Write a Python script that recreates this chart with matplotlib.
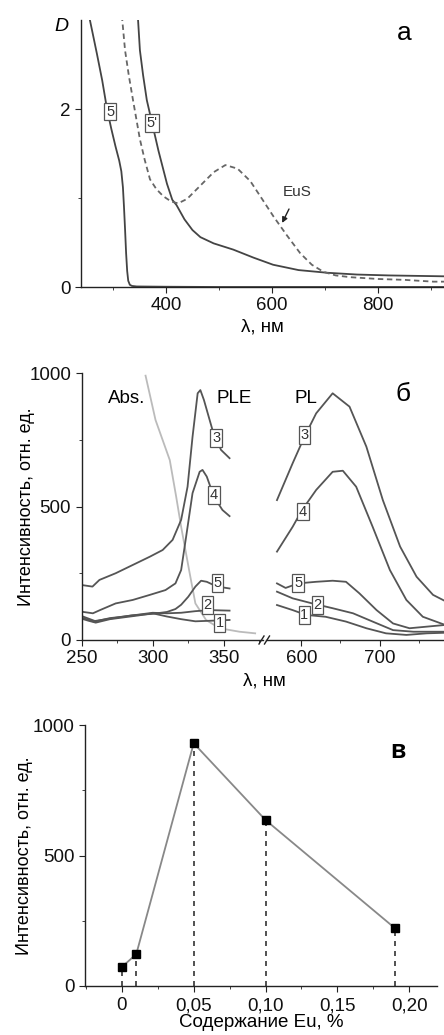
import matplotlib
matplotlib.use('Agg')
import matplotlib.pyplot as plt
from matplotlib.ticker import FixedLocator

plt.rcParams['font.family'] = ['Liberation Sans', 'DejaVu Sans']
plt.rcParams['axes.linewidth'] = 1.0
plt.rcParams['xtick.major.size'] = 4
plt.rcParams['ytick.major.size'] = 4
plt.rcParams['xtick.minor.size'] = 2.5
plt.rcParams['ytick.minor.size'] = 2.5
plt.rcParams['xtick.labelsize'] = 13.5
plt.rcParams['ytick.labelsize'] = 13.5

# --- panel a: absorption spectra, D vs wavelength ---
lam5 = [255, 262, 270, 280, 289, 297, 305, 312, 316, 319, 321, 323, 325, 327, 329, 332, 336, 345, 400, 500, 925]
d5 = [3.05, 2.85, 2.62, 2.32, 2.0, 1.78, 1.58, 1.42, 1.3, 1.12, 0.9, 0.65, 0.38, 0.18, 0.07, 0.025, 0.012, 0.006, 0.003, 0.0, 0.0]

lam5p = [347, 351, 357, 364, 374, 386, 402, 412, 420, 435, 450, 465, 490, 527, 565, 602, 650, 704, 760, 820, 925]
d5p = [3.05, 2.66, 2.38, 2.1, 1.84, 1.53, 1.16, 0.98, 0.92, 0.76, 0.64, 0.56, 0.49, 0.42, 0.33, 0.25, 0.19, 0.16, 0.14, 0.13, 0.12]

lam_eus = [317, 323, 330, 338, 351, 360, 370, 382, 395, 410, 423, 440, 465, 490, 512, 535, 559, 580, 603, 628, 653, 675, 697, 720, 748, 800, 850, 904, 925]
d_eus = [3.05, 2.66, 2.38, 2.1, 1.66, 1.43, 1.21, 1.1, 1.02, 0.96, 0.94, 0.99, 1.14, 1.29, 1.37, 1.33, 1.19, 1.0, 0.79, 0.58, 0.38, 0.25, 0.17, 0.13, 0.11, 0.09, 0.08, 0.06, 0.06]

# --- panel b: PLE (left) and PL (right) spectra ---
abs_lam = [295, 302, 312, 316.5, 320, 326, 330, 337.5, 347, 361, 372]
abs_i = [990, 824, 674, 537, 424, 250, 137, 75, 44, 31, 25]

ple_lam = {
    '3': [250, 257.7, 262.6, 274, 286, 298, 307, 314, 320, 324.5, 328, 331.6, 333.5, 336, 342, 348, 354],
    '4': [250, 258, 263, 274, 286, 298, 309, 316, 320, 323.5, 328, 333, 335, 338, 343, 349, 354],
    '5': [250, 258, 270, 285, 300, 310, 316, 320, 325, 330, 334, 338, 342, 348, 354],
    '2': [250, 255, 260, 270, 280, 290, 300, 310, 320, 330, 340, 354],
    '1': [250, 255, 260, 270, 280, 290, 300, 310, 320, 330, 340, 354],
}
ple_i = {
    '3': [206, 200, 225, 250, 281, 312, 337, 375, 450, 574, 761, 924, 936, 899, 787, 712, 681],
    '4': [106, 100, 112, 137, 150, 169, 187, 212, 262, 387, 550, 630, 637, 612, 537, 487, 464],
    '5': [84, 70, 80, 92, 98, 105, 116, 132, 162, 200, 222, 218, 208, 198, 193],
    '2': [90, 80, 70, 82, 88, 95, 102, 100, 102, 108, 112, 110],
    '1': [80, 72, 65, 78, 85, 92, 100, 88, 78, 70, 72, 75],
}

pl_lam = {
    '3': [569, 589, 604, 619, 640, 661.5, 683, 704, 726, 747, 768, 782],
    '4': [569, 589, 601, 619, 640, 653, 670, 691, 713, 734, 755, 782],
    '5': [569, 580, 596, 619, 640, 657, 674, 696, 717, 738, 760, 782],
    '2': [569, 589, 614, 640, 666, 691, 717, 743, 764, 782],
    '1': [569, 589, 606, 631, 657, 683, 708, 734, 760, 782],
}
pl_i = {
    '3': [524, 662, 761, 849, 924, 874, 724, 524, 350, 237, 169, 148],
    '4': [331, 424, 487, 562, 630, 634, 574, 424, 262, 150, 87, 58],
    '5': [212, 195, 212, 218, 222, 218, 175, 112, 62, 44, 50, 56],
    '2': [181, 156, 137, 119, 100, 69, 37, 31, 31, 31],
    '1': [131, 112, 94, 87, 69, 44, 25, 19, 25, 27],
}

# --- panel c: PL intensity vs Eu content ---
eu_content = [0, 0.01, 0.05, 0.10, 0.19]
eu_intensity = [73, 122, 930, 636, 222]
eu_ticks = [0, 0.05, 0.10, 0.15, 0.20]
eu_ticklabels = ['0', '0,05', '0,10', '0,15', '0,20']

line_c = '#555555'
spine_c = '#222222'


def tag(ax, x, y, s):
    ax.text(x, y, s, fontsize=10.5, ha='center', va='center', color='#333333',
            bbox=dict(boxstyle='square,pad=0.12', fc='white', ec='#555555', lw=0.9))


def style(ax):
    for side in ['top', 'right']:
        ax.spines[side].set_visible(False)
    for side in ['left', 'bottom']:
        ax.spines[side].set_color(spine_c)
    ax.tick_params(which='both', colors=spine_c, labelcolor='#111111')


fig = plt.figure(figsize=(4.44, 10.35), dpi=100)

# panel a
ax_a = fig.add_axes([81 / 444, 1 - 287 / 1035, 1 - 81 / 444, 267 / 1035])
style(ax_a)
ax_a.plot(lam5, d5, color='#444444', lw=1.3)
ax_a.plot(lam5p, d5p, color='#444444', lw=1.3)
ax_a.plot(lam_eus, d_eus, color='#666666', lw=1.3, ls=(0, (3, 2)))
ax_a.set_xlim(240, 924)
ax_a.set_ylim(0, 3)
ax_a.xaxis.set_major_locator(FixedLocator([400, 600, 800]))
ax_a.xaxis.set_minor_locator(FixedLocator([300, 500, 700, 900]))
ax_a.yaxis.set_major_locator(FixedLocator([0, 2]))
ax_a.yaxis.set_minor_locator(FixedLocator([1]))
ax_a.set_xlabel('λ, нм', fontsize=13.5, labelpad=3)
ax_a.text(-0.035, 0.975, 'D', transform=ax_a.transAxes, fontsize=14, style='italic',
          ha='right', va='center')
ax_a.text(0.89, 0.95, 'a', transform=ax_a.transAxes, fontsize=19, ha='center', va='center')
tag(ax_a, 295, 1.97, '5')
tag(ax_a, 374, 1.84, "5'")
ax_a.annotate('EuS', xy=(619, 0.72), xytext=(648, 1.07), fontsize=11, color='#333333',
              ha='center', va='center',
              arrowprops=dict(arrowstyle='-|>', color='#222222', lw=1.0, mutation_scale=8,
                              shrinkA=6, shrinkB=0))

# panel b
ax_bl = fig.add_axes([81.5 / 444, 1 - 640 / 1035, (263 - 81.5) / 444, 267 / 1035])
ax_br = fig.add_axes([266 / 444, 1 - 640 / 1035, (444 - 266) / 444, 267 / 1035], sharey=ax_bl)
style(ax_bl)
style(ax_br)
ax_br.spines['left'].set_visible(False)
ax_br.tick_params(axis='y', which='both', left=False, labelleft=False)

ax_bl.plot(abs_lam, abs_i, color='#bbbbbb', lw=1.3)
for k in ['1', '2', '5', '4', '3']:
    ax_bl.plot(ple_lam[k], ple_i[k], color=line_c, lw=1.3)
    ax_br.plot(pl_lam[k], pl_i[k], color=line_c, lw=1.3)

ax_bl.set_xlim(250, 377.5)
ax_br.set_xlim(555, 782)
ax_bl.set_ylim(0, 1000)
ax_bl.xaxis.set_major_locator(FixedLocator([250, 300, 350]))
ax_bl.xaxis.set_minor_locator(FixedLocator([275, 325, 375]))
ax_br.xaxis.set_major_locator(FixedLocator([600, 700]))
ax_br.xaxis.set_minor_locator(FixedLocator([650, 750]))
ax_bl.yaxis.set_major_locator(FixedLocator([0, 500, 1000]))
ax_bl.yaxis.set_minor_locator(FixedLocator([250, 750]))
ax_bl.set_ylabel('Интенсивность, отн. ед.', fontsize=13)
ax_bl.yaxis.set_label_coords((35 - 81.5) / 181.5, 0.5)

for x, y, s in [(344.7, 757, '3'), (343, 543, '4'), (345.5, 213, '5'), (338.5, 131, '2'), (347, 64, '1')]:
    tag(ax_bl, x, y, s)
for x, y, s in [(604, 768, '3'), (602, 481, '4'), (596, 213, '5'), (620.5, 131, '2'), (604, 94, '1')]:
    tag(ax_br, x, y, s)

ax_bl.text(281.5, 906, 'Abs.', fontsize=13.5, ha='center', va='center')
ax_bl.text(357, 906, 'PLE', fontsize=13.5, ha='center', va='center')
ax_br.text(606, 906, 'PL', fontsize=13.5, ha='center', va='center')
ax_br.text(0.77, 0.92, 'б', transform=ax_br.transAxes, fontsize=19, ha='center', va='center')
fig.text(264 / 444, 1 - 681 / 1035, 'λ, нм', fontsize=13.5, ha='center', va='center')

# axis break marks
for x0 in [259, 264.5]:
    fig.add_artist(plt.Line2D([x0 / 444, (x0 + 5) / 444], [1 - 644 / 1035, 1 - 636 / 1035],
                              color=spine_c, lw=1.0))

# panel c
ax_c = fig.add_axes([85 / 444, 1 - 986 / 1035, (437 - 85) / 444, 261 / 1035])
style(ax_c)
ax_c.tick_params(axis='x', which='major', pad=4)
for x, y in zip(eu_content, eu_intensity):
    ax_c.plot([x, x], [0, y], color='#333333', lw=1.2, ls=(0, (3, 3)))
ax_c.plot(eu_content, eu_intensity, color='#888888', lw=1.3, marker='s', ms=6,
          mfc='black', mec='black', zorder=3)
ax_c.set_xlim(-0.0257, 0.2194)
ax_c.set_ylim(0, 1000)
ax_c.xaxis.set_major_locator(FixedLocator(eu_ticks))
ax_c.set_xticklabels(eu_ticklabels)
ax_c.xaxis.set_minor_locator(FixedLocator([-0.025, 0.025, 0.075, 0.125, 0.175]))
ax_c.yaxis.set_major_locator(FixedLocator([0, 500, 1000]))
ax_c.yaxis.set_minor_locator(FixedLocator([250, 750]))
ax_c.set_ylabel('Интенсивность, отн. ед.', fontsize=13)
ax_c.yaxis.set_label_coords((33 - 85) / 352, 0.5)
ax_c.set_xlabel('Содержание Eu, %', fontsize=13.5, labelpad=0)
ax_c.text(0.89, 0.9, 'в', transform=ax_c.transAxes, fontsize=18, fontweight='bold',
          ha='center', va='center')

fig.savefig('out.png', dpi=100)
